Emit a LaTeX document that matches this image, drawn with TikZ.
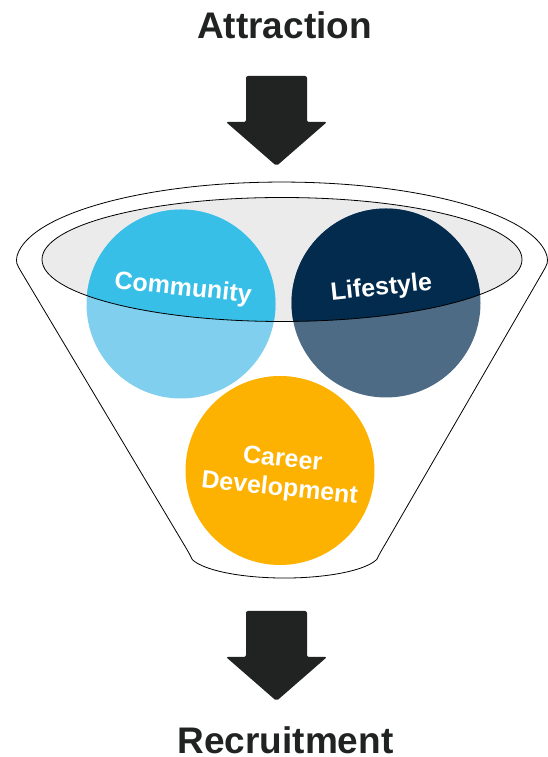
\documentclass[tikz,border=0pt]{standalone}
\usepackage{fontspec}
\setmainfont{Liberation Sans}

\definecolor{inkdark}{HTML}{202322}
\definecolor{commlight}{HTML}{80CFEE}
\definecolor{commdark}{HTML}{38BFE8}
\definecolor{lifelight}{HTML}{4E6B85}
\definecolor{lifedark}{HTML}{022B4D}
\definecolor{careerorange}{HTML}{FDB100}
\definecolor{rimgray}{HTML}{EBEBEB}

\begin{document}
\begin{tikzpicture}[x=1pt, y=1pt,
    blob/.style ={circle, minimum size=189pt, inner sep=0pt},
    label/.style ={text=white, font=\bfseries\fontsize{25}{29}\selectfont, align=center},
    heading/.style ={text=inkdark, font=\bfseries\fontsize{37}{41}\selectfont, anchor=base},
    downarrow/.style ={fill=inkdark, rounded corners=2pt}]
   \useasboundingbox (0,0) rectangle (548,757);

   \node[heading] (attraction)  at (284.5,718) {Attraction};
   \node[heading] (recruitment) at (285.5,4)   {Recruitment};

   \foreach \ya in {681,146}
     \fill[downarrow] (246,\ya) -- ++(61,0) -- ++(0,-46) -- ++(20,0)
        -- ++(-50.5,-44) -- ++(-50.5,44) -- ++(20,0) -- cycle;

   % funnel body, corners rounded by hand
   \draw[thick] (22.1,483.7) .. controls (16,494) .. (17,501)
      arc[start angle=175, end angle=5, x radius=266, y radius=81]
      .. controls (548,494) .. (542,483.6)
      -- (385.1,212.6) .. controls (380,204) .. (376.7,197.5)
      arc[start angle=-15, end angle=-165, x radius=95.5, y radius=25]
      .. controls (189,204) .. (183.9,212.6)
      -- cycle;

   \coordinate (rim) at (282,497.5);
   \fill[rimgray] (rim) ellipse [x radius=240, y radius=62];

   \node[blob,fill=commlight]    (community) at (181,453)   {};
   \node[blob,fill=lifelight]    (lifestyle) at (386,454)   {};
   \node[blob,fill=careerorange] (career)    at (280,286.5) {};

   \begin{scope}
     \clip (rim) ellipse [x radius=240, y radius=62];
     \fill[commdark] (community.center) circle [radius=94.5];
     \fill[lifedark] (lifestyle.center) circle [radius=94.5];
   \end{scope}
   \draw[thick] (rim) ellipse [x radius=240, y radius=62];

   \node[label,rotate=-6] (commtext)   at (183,468) {Community};
   \node[label,rotate=6]  (lifetext)   at (381.5,468.5) {Lifestyle};
   \node[label,rotate=-6] (careertext) at (281,282) {Career\\Development};
 \end{tikzpicture}
\end{document}
